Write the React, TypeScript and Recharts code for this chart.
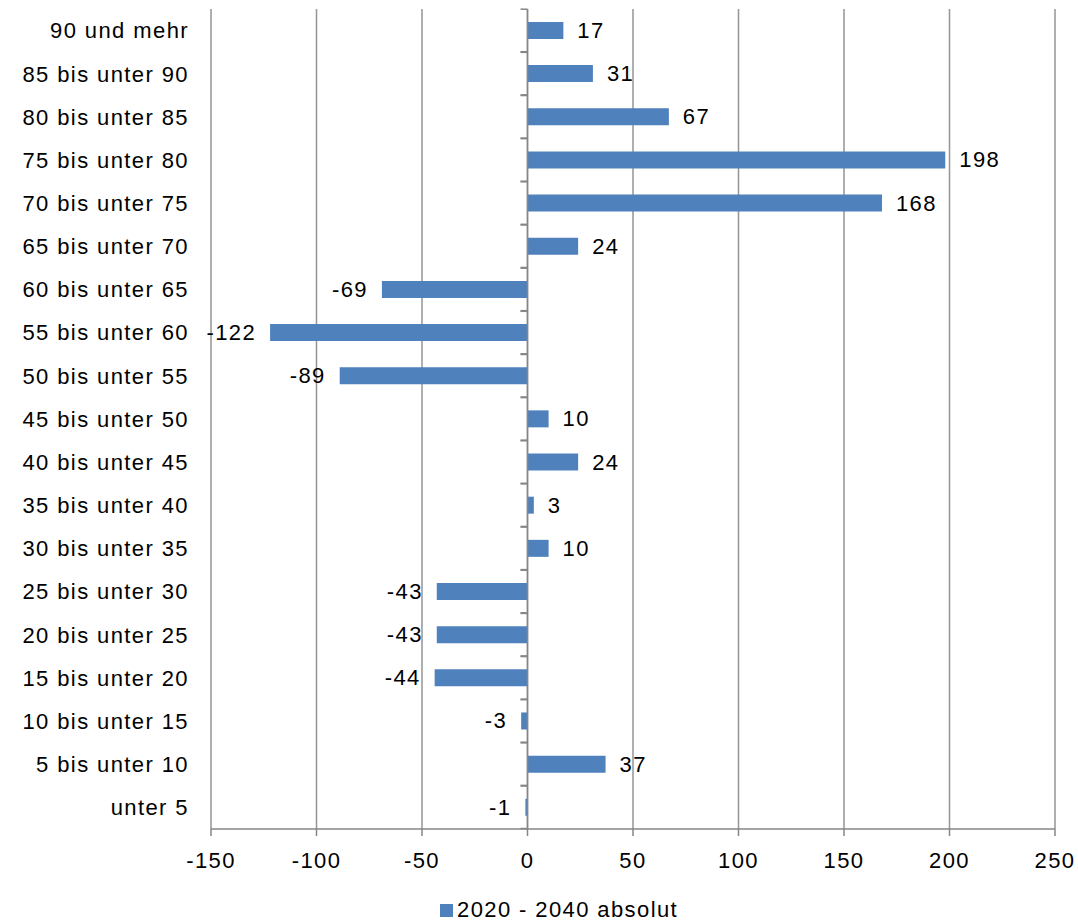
import React from 'react';
import { BarChart, Bar, XAxis, YAxis, CartesianGrid, ReferenceLine, LabelList, Legend, Rectangle } from 'recharts';

// Age groups from youngest to oldest, and the change 2020 - 2040 (absolute)
const ageGroups = [
  'unter 5',
  '5 bis unter 10',
  '10 bis unter 15',
  '15 bis unter 20',
  '20 bis unter 25',
  '25 bis unter 30',
  '30 bis unter 35',
  '35 bis unter 40',
  '40 bis unter 45',
  '45 bis unter 50',
  '50 bis unter 55',
  '55 bis unter 60',
  '60 bis unter 65',
  '65 bis unter 70',
  '70 bis unter 75',
  '75 bis unter 80',
  '80 bis unter 85',
  '85 bis unter 90',
  '90 und mehr',
];
const change = [-1, 37, -3, -44, -43, -43, 10, 3, 24, 10, -89, -122, -69, 24, 168, 198, 67, 31, 17];
const xTicks = [-150, -100, -50, 0, 50, 100, 150, 200, 250];
const seriesName = '2020 - 2040 absolut';

const data = ageGroups.map((group, i) => ({ group, value: change[i] }));

const FONT = '"Liberation Sans", Arial, sans-serif';
const BAR = '#4F81BD';
const AXIS = '#868686';
const GRID = '#959595';
const SPACING = '1.4px';
const GAP = 0.3; // category gap on each side of a bar, as a share of the band

// Bar with the small category-boundary ticks drawn on the zero axis
const BarWithTicks = (props: any) => {
  const { x, y, width, height, value } = props;
  const base = value >= 0 ? Math.min(x, x + width) : Math.max(x, x + width);
  const band = height / (1 - 2 * GAP);
  const bandTop = y - band * GAP;
  const bandBottom = bandTop + band;
  return (
    <g>
      <Rectangle x={x} y={y} width={width} height={height} fill={BAR} />
      <line x1={base - 7} x2={base} y1={bandTop} y2={bandTop} stroke={AXIS} strokeWidth={1.5} />
      <line x1={base - 7} x2={base} y1={bandBottom} y2={bandBottom} stroke={AXIS} strokeWidth={1.5} />
    </g>
  );
};

const ValueLabel = (props: any) => {
  const { x, y, width, height, value } = props;
  const left = Math.min(x, x + width);
  const right = Math.max(x, x + width);
  const pos = value >= 0;
  return (
    <text
      x={pos ? right + 14 : left - 14}
      y={y + height / 2}
      textAnchor={pos ? 'start' : 'end'}
      dominantBaseline="central"
      fill="#000"
      fontSize={22}
      fontFamily={FONT}
    >
      {value}
    </text>
  );
};

const LegendContent = () => (
  <div style={{ position: 'relative', height: 42, width: 1078, fontFamily: FONT, letterSpacing: SPACING }}>
    <div style={{ position: 'absolute', left: 440, top: 25, width: 13, height: 13, background: BAR }} />
    <div style={{ position: 'absolute', left: 457, top: 20, fontSize: 22, lineHeight: '22px', color: '#000', whiteSpace: 'nowrap' }}>
      {seriesName}
    </div>
  </div>
);

export default function App() {
  return (
    <div style={{ position: 'absolute', left: 0, top: 0, width: 1078, height: 921, background: '#fff' }}>
      <BarChart
        width={1078}
        height={921}
        data={data}
        layout="vertical"
        margin={{ top: 9, right: 23, left: 0, bottom: 0 }}
        barCategoryGap={`${GAP * 100}%`}
        style={{ fontFamily: FONT, letterSpacing: SPACING }}
      >
        <CartesianGrid horizontal={false} vertical stroke={GRID} strokeWidth={1.5} />
        <XAxis
          type="number"
          domain={[-150, 250]}
          ticks={xTicks}
          interval={0}
          height={50}
          axisLine={{ stroke: AXIS, strokeWidth: 1.5 }}
          tickLine={{ stroke: AXIS, strokeWidth: 1.5 }}
          tickSize={7}
          tickMargin={16}
          tick={{ fill: '#000', fontSize: 22, fontFamily: FONT }}
        />
        <YAxis
          type="category"
          dataKey="group"
          reversed
          width={211}
          axisLine={false}
          tickLine={false}
          tickSize={0}
          tickMargin={22}
          interval={0}
          tick={{ fill: '#000', fontSize: 22, fontFamily: FONT }}
        />
        <Bar dataKey="value" name={seriesName} fill={BAR} isAnimationActive={false} shape={BarWithTicks}>
          <LabelList dataKey="value" content={ValueLabel} />
        </Bar>
        <ReferenceLine x={0} stroke={AXIS} strokeWidth={1.5} ifOverflow="visible" />
        <Legend verticalAlign="bottom" align="left" height={42} wrapperStyle={{ left: 0, width: 1078 }} content={LegendContent} />
      </BarChart>
    </div>
  );
}
